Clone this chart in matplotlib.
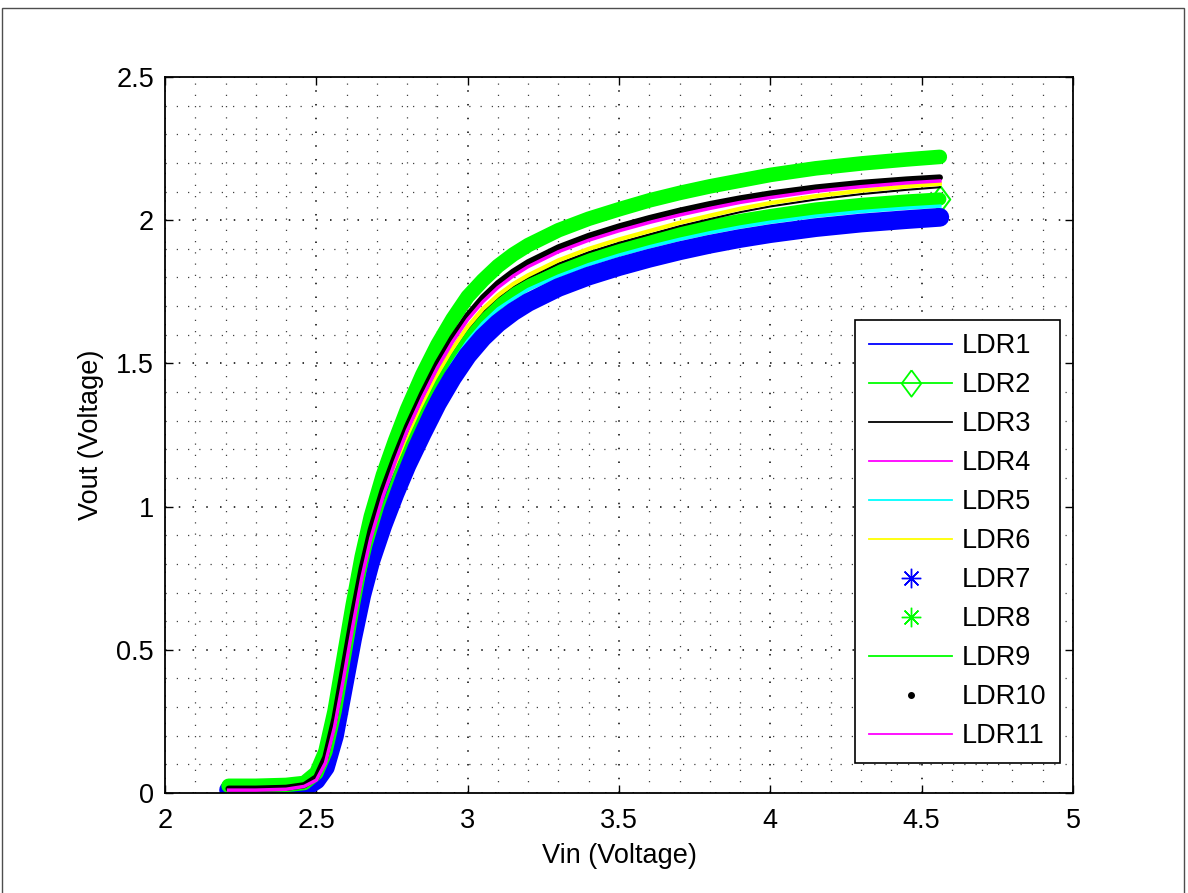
import matplotlib.pyplot as plt
from matplotlib.lines import Line2D
from matplotlib.patches import Rectangle
from matplotlib.ticker import MultipleLocator, FormatStrFormatter

plt.rcParams['font.family'] = ['Liberation Sans', 'DejaVu Sans']

# Vin (V) sample points
vin = [2.21, 2.30, 2.40, 2.46, 2.50, 2.53, 2.56, 2.59, 2.62, 2.65, 2.68, 2.72,
       2.76, 2.80, 2.85, 2.90, 2.95, 3.00, 3.05, 3.10, 3.15, 3.20, 3.30, 3.40,
       3.50, 3.60, 3.70, 3.80, 3.90, 4.00, 4.15, 4.30, 4.45, 4.56]

# Vout (V) for each LDR
ldr1 = [0.012, 0.012, 0.014, 0.02, 0.047, 0.095, 0.21, 0.38, 0.55, 0.70, 0.82, 0.945,
        1.055, 1.155, 1.265, 1.37, 1.46, 1.538, 1.60, 1.65, 1.69, 1.723, 1.775, 1.815,
        1.848, 1.877, 1.903, 1.926, 1.946, 1.963, 1.984, 2.0, 2.012, 2.02]
ldr2 = [0.015, 0.015, 0.018, 0.022, 0.043, 0.09, 0.205, 0.375, 0.55, 0.715, 0.85, 0.99,
        1.105, 1.21, 1.325, 1.43, 1.52, 1.598, 1.66, 1.71, 1.75, 1.78, 1.827, 1.867,
        1.90, 1.929, 1.956, 1.979, 1.999, 2.016, 2.039, 2.055, 2.067, 2.074]
ldr3 = [0.012, 0.012, 0.015, 0.02, 0.04, 0.09, 0.21, 0.38, 0.555, 0.72, 0.86, 1.005,
        1.123, 1.228, 1.343, 1.448, 1.538, 1.616, 1.678, 1.726, 1.765, 1.796, 1.848, 1.888,
        1.921, 1.95, 1.979, 2.004, 2.028, 2.048, 2.072, 2.091, 2.106, 2.115]
ldr4 = [0.012, 0.012, 0.015, 0.025, 0.048, 0.11, 0.235, 0.405, 0.585, 0.755, 0.895, 1.04,
        1.16, 1.27, 1.385, 1.49, 1.58, 1.658, 1.72, 1.77, 1.81, 1.843, 1.895, 1.935,
        1.968, 1.997, 2.022, 2.045, 2.066, 2.083, 2.104, 2.12, 2.133, 2.14]
ldr5 = [0.012, 0.012, 0.015, 0.02, 0.04, 0.085, 0.195, 0.36, 0.53, 0.695, 0.83, 0.97,
        1.085, 1.19, 1.305, 1.41, 1.50, 1.578, 1.64, 1.69, 1.725, 1.758, 1.805, 1.845,
        1.878, 1.907, 1.933, 1.956, 1.976, 1.993, 2.014, 2.03, 2.042, 2.049]
ldr6 = [0.012, 0.012, 0.015, 0.022, 0.043, 0.095, 0.215, 0.385, 0.56, 0.73, 0.87, 1.015,
        1.135, 1.24, 1.355, 1.46, 1.55, 1.628, 1.69, 1.738, 1.777, 1.808, 1.86, 1.90,
        1.933, 1.962, 1.991, 2.016, 2.04, 2.06, 2.084, 2.103, 2.118, 2.127]
ldr7 = [0.01, 0.01, 0.012, 0.018, 0.045, 0.09, 0.20, 0.37, 0.54, 0.69, 0.81, 0.935,
        1.045, 1.145, 1.255, 1.36, 1.45, 1.528, 1.59, 1.64, 1.68, 1.713, 1.765, 1.805,
        1.838, 1.867, 1.893, 1.916, 1.936, 1.953, 1.974, 1.99, 2.002, 2.01]
ldr8 = [0.025, 0.025, 0.028, 0.035, 0.07, 0.145, 0.285, 0.47, 0.655, 0.825, 0.965, 1.11,
        1.23, 1.34, 1.46, 1.565, 1.655, 1.733, 1.79, 1.84, 1.88, 1.913, 1.965, 2.005,
        2.038, 2.069, 2.095, 2.118, 2.138, 2.158, 2.181, 2.198, 2.212, 2.221]
ldr9 = [0.015, 0.015, 0.018, 0.022, 0.045, 0.095, 0.215, 0.385, 0.56, 0.725, 0.86, 1.0,
        1.115, 1.22, 1.335, 1.44, 1.53, 1.608, 1.67, 1.72, 1.76, 1.79, 1.837, 1.877,
        1.91, 1.939, 1.966, 1.989, 2.009, 2.026, 2.049, 2.065, 2.077, 2.084]
ldr10 = [0.015, 0.015, 0.018, 0.027, 0.055, 0.125, 0.26, 0.44, 0.62, 0.785, 0.92, 1.06,
         1.175, 1.28, 1.395, 1.50, 1.59, 1.668, 1.73, 1.78, 1.82, 1.853, 1.905, 1.945,
         1.978, 2.007, 2.033, 2.056, 2.076, 2.093, 2.114, 2.13, 2.142, 2.149]
ldr11 = [0.01, 0.01, 0.013, 0.023, 0.045, 0.105, 0.23, 0.40, 0.58, 0.75, 0.89, 1.035,
         1.155, 1.265, 1.38, 1.485, 1.575, 1.653, 1.715, 1.765, 1.805, 1.838, 1.89, 1.93,
         1.963, 1.992, 2.018, 2.041, 2.062, 2.079, 2.101, 2.117, 2.13, 2.137]

labels = ['LDR%d' % i for i in range(1, 12)]
BLUE, GREEN, BLACK = (0, 0, 1), (0, 1, 0), (0, 0, 0)
MAGENTA, CYAN, YELLOW = (1, 0, 1), (0, 1, 1), (1, 1, 0)
diamond = [(0, 1), (0.74, 0), (0, -1), (-0.74, 0), (0, 1)]
asterisk = (8, 2, 0)

fig = plt.figure(figsize=(11.88, 8.93), dpi=100)
ax = fig.add_axes([0.1389, 0.1120, 0.7643, 0.8018])

# dense measurements drawn as thick bands, in the original plotting order
ax.plot(vin, ldr1, color=BLUE, lw=2)
ax.plot(vin, ldr2, color=GREEN, lw=9.5, solid_capstyle='round', solid_joinstyle='round')
ax.plot(vin[-1:], ldr2[-1:], color=GREEN, marker=diamond, ms=19,
        mfc='none', mew=1.5, ls='none')
ax.plot(vin, ldr3, color=BLACK, lw=1.5)
ax.plot(vin, ldr4, color=MAGENTA, lw=2)
ax.plot(vin, ldr5, color=CYAN, lw=2.5)
ax.plot(vin, ldr6, color=YELLOW, lw=3)
ax.plot(vin, ldr7, color=BLUE, lw=13.5, solid_capstyle='round', solid_joinstyle='round')
ax.plot(vin, ldr8, color=GREEN, lw=10.5, solid_capstyle='round', solid_joinstyle='round')
ax.plot(vin, ldr9, color=GREEN, lw=2)
ax.plot(vin, ldr10, color=BLACK, lw=4.5, solid_capstyle='round', solid_joinstyle='round')
ax.plot(vin, ldr11, color=MAGENTA, lw=2.5)

ax.set_xlim(2, 5)
ax.set_ylim(0, 2.5)
ax.xaxis.set_major_locator(MultipleLocator(0.5))
ax.yaxis.set_major_locator(MultipleLocator(0.5))
ax.xaxis.set_minor_locator(MultipleLocator(0.1))
ax.yaxis.set_minor_locator(MultipleLocator(0.1))
ax.xaxis.set_major_formatter(FormatStrFormatter('%g'))
ax.yaxis.set_major_formatter(FormatStrFormatter('%g'))
ax.grid(which='major', color='k', ls=(0, (1, 8)), lw=1.1)
ax.grid(which='minor', color='0.25', ls=(0, (1, 8)), lw=0.9)
ax.set_axisbelow(True)
ax.tick_params(which='major', direction='in', length=6, width=1,
               top=True, right=True, labelsize=19.5)
ax.tick_params(axis='x', pad=11)
ax.tick_params(axis='y', pad=8)
ax.tick_params(which='minor', length=0)
for s in ax.spines.values():
    s.set_linewidth(1.3)

ax.set_xlabel('Vin (Voltage)', fontsize=19.5, labelpad=6)
ax.set_ylabel('Vout (Voltage)', fontsize=19.5, labelpad=9)

styles = [dict(color=BLUE), dict(color=GREEN, marker=diamond, ms=19, mfc='none', mew=1.3),
          dict(color=BLACK), dict(color=MAGENTA), dict(color=CYAN), dict(color=YELLOW),
          dict(color=BLUE, ls='none', marker=asterisk, ms=14, mew=1.0),
          dict(color=GREEN, ls='none', marker=asterisk, ms=14, mew=1.0),
          dict(color=GREEN), dict(color=BLACK, ls='none', marker='.', ms=8),
          dict(color=MAGENTA)]
handles = [Line2D([], [], lw=1.3, **st) for st in styles]
leg = ax.legend(handles, labels, loc='lower right', bbox_to_anchor=(0.9857, 0.0419),
                borderaxespad=0, fontsize=19.5, handlelength=3.1, handletextpad=0.35,
                labelspacing=0.48, borderpad=0.5, fancybox=False, framealpha=1)
leg.get_frame().set_edgecolor('k')
leg.get_frame().set_linewidth(1.2)

fig.patches.append(Rectangle((2 / 1188, -0.01), 1182 / 1188, 885 / 893 + 0.01,
                             transform=fig.transFigure, fill=False,
                             edgecolor='0.3', lw=1))

fig.savefig('out.png', dpi=100)
